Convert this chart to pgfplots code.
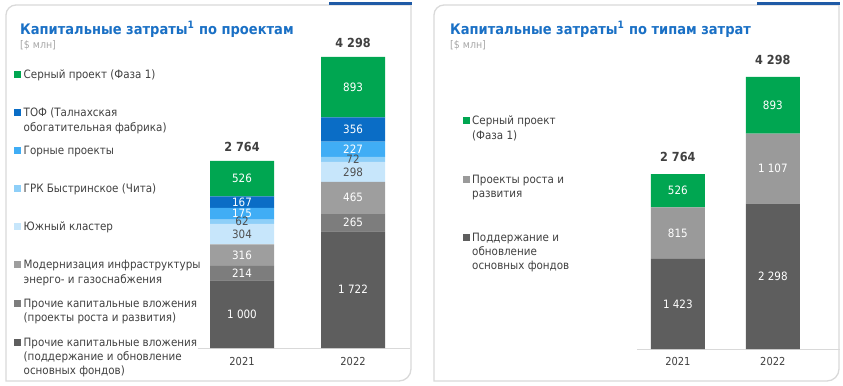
\documentclass[border=0pt]{standalone}
\usepackage{pgfplots}
\pgfplotsset{compat=1.18}
\usepackage{fontspec}
\setmainfont{DejaVu Sans}[FakeStretch=0.9]
\definecolor{cA}{HTML}{00A651}
\definecolor{cB}{HTML}{0A6DC6}
\definecolor{cC}{HTML}{40ADF5}
\definecolor{cD}{HTML}{8ECFF8}
\definecolor{cE}{HTML}{C7E6FB}
\definecolor{cF}{HTML}{9E9E9E}
\definecolor{cG}{HTML}{7D7D7D}
\definecolor{cH}{HTML}{5E5E5E}
\definecolor{rG}{HTML}{9A9A9A}
\definecolor{txt}{HTML}{404040}
\definecolor{dtxt}{HTML}{505050}
\definecolor{ttl}{HTML}{1A70C5}
\definecolor{sub}{HTML}{A6A6A6}
\definecolor{frame}{HTML}{D9D9D9}
\definecolor{topbar}{HTML}{1F5AA6}
\pgfplotsset{
  overlay/.style={scale only axis, axis lines=none, xtick=\empty, ytick=\empty, clip=false, ymin=0, ymax=4298},
  seglbl/.style={only marks, mark=none, nodes near coords, point meta=explicit symbolic,
    every node near coord/.style={anchor=center, inner sep=0pt, text=#1, font=\fontsize{11.5bp}{13bp}\selectfont}},
  totlbl/.style={only marks, mark=none, nodes near coords, point meta=explicit symbolic,
    every node near coord/.style={anchor=base, yshift=#1, inner sep=0pt, text=txt, font=\fontsize{12.5bp}{14bp}\selectfont\bfseries}},
}
\begin{document}
\begin{tikzpicture}[
  leg/.style={anchor=base west, inner sep=0pt, font=\fontsize{11.5bp}{13bp}\selectfont, text=txt},
]
\useasboundingbox (0bp,0bp) rectangle (843bp,386bp);
\begin{scope}[x=1bp,y=1bp]
% frames
\draw[frame, line width=1.3] (6,5) -- (6,371) arc[start angle=180, end angle=90, radius=10] -- (411,381) -- (411,17) arc[start angle=0, end angle=-90, radius=12] -- cycle;
\draw[frame, line width=1.3] (434,5) -- (434,371) arc[start angle=180, end angle=90, radius=10] -- (839,381) -- (839,17) arc[start angle=0, end angle=-90, radius=12] -- cycle;
\fill[topbar] (329,381) rectangle (411.6,384);
\fill[topbar] (757,381) rectangle (839.6,384);
% titles
\node[anchor=base west, inner sep=0pt, text=ttl, font=\fontsize{14.5bp}{17bp}\selectfont\bfseries] at (20,352) {Капитальные затраты\textsuperscript{1} по проектам};
\node[anchor=base west, inner sep=0pt, text=sub, font=\fontsize{10.5bp}{12bp}\selectfont] at (20,338) {[\$ млн]};
\node[anchor=base west, inner sep=0pt, text=ttl, font=\fontsize{14.5bp}{17bp}\selectfont\bfseries] at (450,352) {Капитальные затраты\textsuperscript{1} по типам затрат};
\node[anchor=base west, inner sep=0pt, text=sub, font=\fontsize{10.5bp}{12bp}\selectfont] at (450,338) {[\$ млн]};
% left legend
\node[leg] at (14,308) {\textcolor{cA}{\rule[0.5bp]{6.5bp}{6.5bp}}};
\node[leg] at (23.5,308) {Серный проект (Фаза 1)};
\node[leg] at (14,270) {\textcolor{cB}{\rule[0.5bp]{6.5bp}{6.5bp}}};
\node[leg] at (23.5,270) {ТОФ (Талнахская};
\node[leg] at (23.5,255) {обогатительная фабрика)};
\node[leg] at (14,232) {\textcolor{cC}{\rule[0.5bp]{6.5bp}{6.5bp}}};
\node[leg] at (23.5,232) {Горные проекты};
\node[leg] at (14,194) {\textcolor{cD}{\rule[0.5bp]{6.5bp}{6.5bp}}};
\node[leg] at (23.5,194) {ГРК Быстринское (Чита)};
\node[leg] at (14,156) {\textcolor{cE}{\rule[0.5bp]{6.5bp}{6.5bp}}};
\node[leg] at (23.5,156) {Южный кластер};
\node[leg] at (14,118) {\textcolor{cF}{\rule[0.5bp]{6.5bp}{6.5bp}}};
\node[leg] at (23.5,118) {Модернизация инфраструктуры};
\node[leg] at (23.5,103) {энерго- и газоснабжения};
\node[leg] at (14,79) {\textcolor{cG}{\rule[0.5bp]{6.5bp}{6.5bp}}};
\node[leg] at (23.5,79) {Прочие капитальные вложения};
\node[leg] at (23.5,65) {(проекты роста и развития)};
\node[leg] at (14,40) {\textcolor{cH}{\rule[0.5bp]{6.5bp}{6.5bp}}};
\node[leg] at (23.5,40) {Прочие капитальные вложения};
\node[leg] at (23.5,26) {(поддержание и обновление};
\node[leg] at (23.5,12) {основных фондов)};
% right legend
\node[leg] at (463,262) {\textcolor{cA}{\rule[0.5bp]{6.5bp}{6.5bp}}};
\node[leg] at (472,262) {Серный проект};
\node[leg] at (472,247) {(Фаза 1)};
\node[leg] at (463,203) {\textcolor{rG}{\rule[0.5bp]{6.5bp}{6.5bp}}};
\node[leg] at (472,203) {Проекты роста и};
\node[leg] at (472,189) {развития};
\node[leg] at (463,145) {\textcolor{cH}{\rule[0.5bp]{6.5bp}{6.5bp}}};
\node[leg] at (472,145) {Поддержание и};
\node[leg] at (472,131) {обновление};
\node[leg] at (472,117) {основных фондов};
\end{scope}

% left chart
\begin{axis}[
  at={(197.6bp,38bp)}, anchor=south west,
  scale only axis, width=212.4bp, height=291bp,
  xmin=-0.4, xmax=1.513, ymin=0, ymax=4298,
  ybar stacked, bar width=64bp,
  axis x line=bottom, axis y line=none,
  x axis line style={-, draw=frame, line width=1bp},
  xtick={0,1}, xticklabels={2021,2022}, ytick=\empty, major tick length=0pt,
  xticklabel style={anchor=base, yshift=-17bp, font=\fontsize{11bp}{13bp}\selectfont, text=txt},
  clip=false,
]
\addplot[fill=cH, draw=none] coordinates {(0,1000) (1,1722)};
\addplot[fill=cG, draw=none] coordinates {(0,214) (1,265)};
\addplot[fill=cF, draw=none] coordinates {(0,316) (1,465)};
\addplot[fill=cE, draw=none] coordinates {(0,304) (1,298)};
\addplot[fill=cD, draw=none] coordinates {(0,62) (1,72)};
\addplot[fill=cC, draw=none] coordinates {(0,175) (1,227)};
\addplot[fill=cB, draw=none] coordinates {(0,167) (1,356)};
\addplot[fill=cA, draw=none] coordinates {(0,526) (1,893)};
\end{axis}
\begin{axis}[overlay,
  at={(197.6bp,38bp)}, anchor=south west,
  width=212.4bp, height=291bp, xmin=-0.4, xmax=1.513]
\addplot[seglbl=white] coordinates {(0,500) [1 000] (0,1107) [214] (0,1372) [316]
  (0,1983.5) [175] (0,2154.5) [167] (0,2501) [526]
  (1,861) [1 722] (1,1854.5) [265] (1,2219.5) [465] (1,2935.5) [227] (1,3227) [356] (1,3851.5) [893]};
\addplot[seglbl=dtxt] coordinates {(0,1682) [304] (0,1865) [62] (1,2601) [298] (1,2786) [72]};
\addplot[totlbl=9bp] coordinates {(0,2764) [2 764] (1,4298) [4 298]};
\end{axis}

% right chart
\begin{axis}[
  at={(637bp,37bp)}, anchor=south west,
  scale only axis, width=202.8bp, height=272bp,
  xmin=-0.43, xmax=1.705, ymin=0, ymax=4298,
  ybar stacked, bar width=54bp,
  axis x line=bottom, axis y line=none,
  x axis line style={-, draw=frame, line width=1bp},
  xtick={0,1}, xticklabels={2021,2022}, ytick=\empty, major tick length=0pt,
  xticklabel style={anchor=base, yshift=-16bp, font=\fontsize{11bp}{13bp}\selectfont, text=txt},
  clip=false,
]
\addplot[fill=cH, draw=none] coordinates {(0,1423) (1,2298)};
\addplot[fill=rG, draw=none] coordinates {(0,815) (1,1107)};
\addplot[fill=cA, draw=none] coordinates {(0,526) (1,893)};
\end{axis}
\begin{axis}[overlay,
  at={(637bp,37bp)}, anchor=south west,
  width=202.8bp, height=272bp, xmin=-0.43, xmax=1.705]
\addplot[seglbl=white] coordinates {(0,711.5) [1 423] (0,1830.5) [815] (0,2501) [526]
  (1,1149) [2 298] (1,2851.5) [1 107] (1,3851.5) [893]};
\addplot[totlbl=12.5bp] coordinates {(0,2764) [2 764] (1,4298) [4 298]};
\end{axis}
\end{tikzpicture}
\end{document}
